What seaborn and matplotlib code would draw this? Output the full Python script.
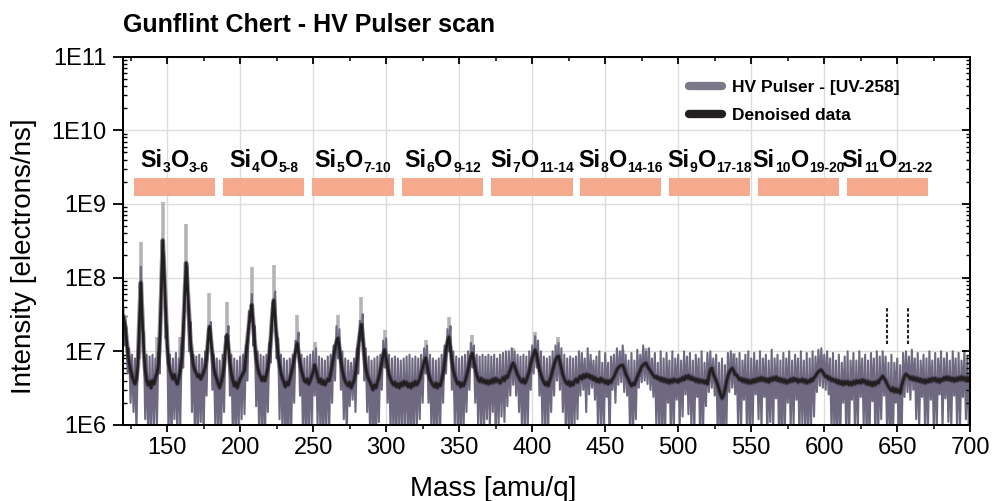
import numpy as np
import pandas as pd
import matplotlib
matplotlib.use("Agg")
import matplotlib.pyplot as plt
import seaborn as sns
from matplotlib.lines import Line2D
from matplotlib.ticker import LogLocator, NullFormatter, MultipleLocator

# ---------------- data ----------------
mass_start, mass_stop = 120, 700          # 1 amu grid

# denoised trace, units of 1e6 electrons/ns, one value per amu (120..700)
denoised_M = [
    30, 24, 16, 10, 7, 5.5, 4.6, 4.0, 3.6, 4.2,
    6.5, 25, 85, 30, 10, 5.5, 4.0, 3.5, 3.9, 3.2,
    4.0, 3.6, 4.4, 5.0, 6.5, 15, 60, 320, 110, 35,
    13, 7, 5.5, 4.8, 4.2, 4.8, 4.0, 3.6, 4.3, 5.5,
    8, 18, 50, 158, 70, 30, 14, 9, 6.5, 5.5,
    5.0, 4.5, 4.8, 4.2, 4.6, 5.2, 6.0, 8.0, 13, 21.6,
    14, 9, 6, 4.8, 4.2, 3.6, 3.2, 3.8, 4.6, 6.5,
    11, 16.6, 11, 7, 5, 4.0, 3.4, 3.8, 3.2, 3.7,
    4.2, 4.6, 5.0, 5.5, 9, 14, 22, 32, 42.5, 24,
    13, 8, 6, 5, 4.5, 4.0, 4.5, 4.0, 4.8, 6.0,
    9, 15, 30, 49, 26, 15, 9, 6.5, 5, 4.3,
    3.8, 3.3, 3.8, 3.5, 4.2, 5.0, 6.2, 8.0, 10, 12.8,
    9.5, 7, 5.5, 4.6, 4.0, 3.8, 4.2, 3.6, 4.0, 4.6,
    5.2, 6.5, 5.5, 4.5, 3.8, 4.2, 3.6, 4.0, 3.5, 3.8,
    4.2, 4.0, 5.0, 6.5, 8.5, 11, 13.5, 15, 11, 7.5,
    5.5, 4.5, 3.9, 3.6, 3.4, 3.8, 3.2, 3.6, 4.0, 5.0,
    7.5, 12, 17, 23, 15, 9, 6, 4.8, 4.2, 3.8,
    3.4, 3.0, 3.5, 3.2, 3.8, 4.4, 5.5, 7.0, 9.0, 10.4,
    8.0, 6.0, 4.8, 4.2, 3.8, 3.5, 3.8, 3.3, 3.6, 3.2,
    3.7, 3.4, 3.9, 3.5, 3.8, 3.3, 3.6, 3.2, 3.7, 3.4,
    3.9, 3.5, 3.8, 4.2, 5.0, 6.0, 7.2, 8.1, 6.5, 5.0,
    4.2, 3.8, 3.5, 3.3, 3.7, 3.2, 3.6, 3.4, 4.0, 5.0,
    7.0, 10.5, 13.5, 15.5, 11, 7.5, 5.5, 4.6, 4.0, 3.6,
    3.8, 3.3, 3.7, 3.4, 3.9, 4.6, 5.5, 7.0, 8.5, 9.4,
    7.5, 5.8, 4.8, 4.2, 3.9, 4.3, 3.8, 4.1, 3.7, 4.0,
    3.6, 4.0, 3.7, 4.2, 3.8, 4.3, 3.9, 4.1, 3.7, 4.0,
    4.4, 4.0, 4.6, 4.4, 5.0, 5.6, 6.4, 6.9, 6.2, 5.4,
    4.8, 4.4, 4.0, 3.8, 4.2, 3.7, 4.0, 4.6, 5.4, 6.8,
    8.0, 9.2, 10.4, 9.0, 7.0, 5.6, 4.8, 4.2, 3.8, 3.5,
    3.8, 3.4, 4.0, 4.6, 5.5, 6.6, 7.6, 8.3, 8.6, 7.2,
    5.8, 4.8, 4.2, 3.8, 3.6, 3.9, 3.4, 3.8, 3.5, 3.9,
    4.2, 3.8, 4.3, 4.6, 4.2, 4.8, 4.4, 4.9, 4.5, 4.8,
    4.3, 4.6, 4.1, 4.4, 3.9, 4.2, 3.8, 4.3, 3.9, 4.1,
    3.7, 4.0, 3.6, 4.0, 3.8, 4.2, 4.5, 5.0, 5.6, 6.0,
    6.3, 6.4, 6.5, 5.8, 5.0, 4.5, 4.1, 3.7, 3.4, 3.7,
    3.5, 4.0, 4.5, 5.0, 5.6, 6.2, 6.5, 6.8, 6.9, 6.2,
    5.8, 5.4, 5.0, 4.7, 4.4, 4.6, 4.2, 4.4, 4.0, 4.3,
    3.9, 4.2, 3.8, 4.1, 3.7, 4.1, 3.8, 4.2, 3.9, 4.1,
    3.8, 4.2, 4.0, 4.4, 4.1, 4.6, 4.3, 4.7, 4.2, 4.5,
    4.1, 4.3, 3.9, 4.2, 3.8, 4.1, 3.8, 4.0, 3.7, 4.0,
    3.6, 4.6, 5.6, 5.9, 5.0, 4.4, 4.0, 3.5, 3.0, 2.6,
    2.3, 2.5, 3.0, 3.8, 4.6, 5.2, 5.6, 5.9, 5.4, 4.8,
    4.8, 4.4, 4.1, 4.3, 3.9, 4.2, 3.8, 4.1, 3.7, 4.0,
    3.7, 4.1, 3.8, 4.2, 3.9, 4.3, 4.0, 4.4, 4.0, 4.3,
    3.9, 4.2, 3.8, 4.3, 4.0, 4.4, 4.1, 4.5, 4.0, 4.3,
    3.9, 4.2, 3.8, 4.1, 3.7, 4.0, 3.8, 4.2, 3.9, 4.3,
    4.0, 4.2, 3.8, 4.1, 3.9, 4.2, 3.8, 4.1, 3.7, 4.0,
    3.8, 4.2, 4.0, 4.4, 4.6, 5.0, 5.3, 5.5, 5.6, 5.2,
    4.8, 4.5, 4.6, 4.2, 4.4, 4.0, 4.2, 3.9, 4.1, 3.7,
    4.0, 3.6, 3.9, 3.5, 3.9, 3.6, 3.9, 3.5, 3.8, 3.5,
    3.9, 3.6, 4.0, 3.7, 4.0, 3.7, 4.1, 3.8, 4.0, 3.6,
    3.9, 3.5, 3.8, 3.4, 3.8, 3.5, 3.9, 3.7, 4.1, 4.3,
    4.6, 4.3, 4.0, 3.6, 3.3, 3.1, 2.9, 3.2, 2.8, 3.1,
    2.8, 3.0, 2.7, 3.4, 4.0, 4.6, 4.9, 4.7, 4.5, 4.2,
    4.5, 4.1, 4.4, 4.0, 4.3, 3.9, 4.2, 3.8, 4.1, 3.7,
    4.1, 3.8, 4.2, 3.9, 4.3, 4.0, 4.3, 3.9, 4.2, 3.8,
    4.2, 4.0, 4.4, 4.1, 4.5, 4.1, 4.4, 4.0, 4.3, 3.9,
    4.3, 4.0, 4.4, 4.1, 4.5, 4.1, 4.4, 4.0, 4.4, 4.2,
    4.5,
]

# raw HV pulser trace, units of 1e6 electrons/ns, one value per amu (120..700)
hv_raw_M = [
    40, 12, 22, 5, 11, 2.0, 9, 1.5, 8, 0.8,
    10, 8, 140, 20, 18, 1.2, 9, 0.7, 8.5, 0.6,
    9, 1.0, 8, 0.9, 10, 5, 100, 250, 200, 15,
    22, 0.8, 9, 0.6, 8, 1.2, 9.5, 0.7, 8, 1.0,
    12, 6, 80, 130, 140, 10, 25, 1.5, 9, 0.8,
    8.5, 0.6, 9, 1.1, 8, 0.7, 10, 2.5, 20, 18,
    25, 3, 9, 0.9, 8, 0.6, 7.5, 0.8, 9, 1.5,
    16, 12, 22, 2.5, 9, 0.7, 8, 0.6, 7.5, 0.9,
    8.5, 1.2, 9, 1.4, 12, 4, 35, 25, 60, 12,
    22, 1.8, 10, 0.8, 9, 0.7, 8.5, 0.6, 9, 1.5,
    13, 7, 45, 40, 65, 8, 15, 1.2, 9, 0.8,
    8, 0.6, 7.5, 0.5, 8, 0.9, 9, 2.0, 14, 11,
    18, 2.5, 9, 0.8, 8, 0.6, 8.5, 0.7, 9, 1.0,
    10, 2.5, 11, 1.0, 8.5, 0.7, 8, 0.6, 7.5, 0.8,
    8.5, 0.9, 9, 2.0, 12, 4, 22, 8, 20, 3,
    10, 1.2, 8, 0.7, 7.5, 1.8, 7, 2.2, 8, 1.5,
    11, 5, 26, 14, 32, 4, 11, 1.5, 8.5, 0.7,
    7.5, 0.6, 8, 0.5, 8.5, 1.1, 9, 3, 14, 6,
    15, 2, 9, 0.8, 8, 0.7, 8.5, 0.6, 8, 0.9,
    7.5, 0.6, 8, 1.0, 8.5, 0.7, 9, 0.5, 8, 0.8,
    8.5, 0.9, 8, 1.2, 9, 2, 11, 5, 12, 2,
    9, 0.8, 8, 0.6, 7.5, 0.7, 8, 0.9, 9, 2,
    12, 5, 20, 10, 22, 3, 10, 1.0, 8.5, 0.7,
    8, 0.6, 8.5, 0.8, 9, 1.5, 10, 3, 13, 6,
    12, 2, 9, 1.0, 8.5, 0.8, 9, 0.7, 8.5, 1.2,
    9, 0.9, 8.5, 1.5, 9, 0.7, 8, 1.0, 9, 1.3,
    9.5, 1.1, 10, 1.8, 10, 2.5, 11, 3.5, 10, 2.5,
    9, 1.5, 8.5, 0.8, 9, 0.7, 8.5, 1.0, 10, 3,
    12, 5, 16, 6, 14, 2.5, 10, 1.0, 8.5, 0.7,
    8, 0.9, 8.5, 1.5, 10, 2.5, 12, 4, 13, 3,
    11, 1.5, 9, 0.8, 8, 0.7, 8.5, 0.6, 8, 1.0,
    8.5, 1.2, 10, 2.5, 9.5, 3.0, 8, 1.5, 11, 2.6,
    9, 3.2, 7.5, 2.2, 8.5, 1.0, 10, 0.8, 7, 0.9,
    9.5, 2.4, 7, 0.6, 8.5, 3.0, 9, 2.0, 11, 3.5,
    10, 3.8, 12, 2.8, 9, 2.5, 7.5, 0.8, 9.5, 0.6,
    7.5, 1.2, 10.5, 3.2, 9, 3.8, 12, 4.0, 10, 3.6,
    11, 3.0, 8, 2.4, 9.5, 1.0, 7, 0.8, 10, 0.6,
    8, 0.7, 9.5, 2.0, 7.5, 0.6, 10, 0.9, 8, 2.2,
    9, 1.0, 7.5, 1.3, 10, 2.6, 8.5, 1.4, 9.5, 0.9,
    7.5, 0.8, 9, 2.4, 8, 0.6, 10, 0.8, 7, 1.8,
    9.5, 2.8, 10, 3.2, 8, 2.5, 9, 0.8, 7, 0.6,
    8, 0.5, 6.5, 0.9, 9.5, 2.8, 10, 3.2, 9, 2.6,
    8, 1.0, 9.5, 0.8, 7.5, 2.2, 9, 0.9, 10, 0.6,
    8, 1.0, 9.5, 2.6, 7.5, 1.2, 10, 0.9, 8, 2.4,
    9, 0.7, 7.5, 1.1, 10.5, 0.8, 8, 2.3, 9, 0.7,
    7.5, 0.6, 9.5, 0.8, 8, 2.0, 10, 0.9, 7.5, 1.0,
    9, 2.2, 8, 0.7, 10, 1.0, 7.5, 0.8, 9.5, 0.6,
    8, 1.0, 10, 1.3, 8.5, 2.8, 10.5, 3.4, 11, 3.2,
    9, 3.0, 10, 2.6, 8, 0.8, 9.5, 0.7, 7.5, 0.6,
    9, 0.7, 7, 2.0, 8.5, 0.8, 10, 0.6, 7.5, 2.2,
    9.5, 0.8, 7.5, 0.9, 10, 2.4, 8, 1.0, 9, 0.7,
    7.5, 0.6, 9.5, 2.1, 8, 0.6, 10, 0.8, 8.5, 1.2,
    10, 2.5, 8.5, 0.8, 7, 0.6, 9, 0.5, 7, 2.0,
    8, 0.5, 6.5, 0.7, 9.5, 2.4, 10, 2.8, 8.5, 2.2,
    10.5, 3.0, 8, 1.2, 9.5, 0.9, 7.5, 2.4, 9, 0.9,
    8, 0.8, 10, 2.2, 7.5, 0.9, 9.5, 0.8, 8, 2.6,
    10, 0.9, 8, 2.3, 9.5, 1.1, 7.5, 0.9, 10, 2.5,
    8, 0.8, 9.5, 1.0, 7.5, 2.4, 10, 1.2, 8.5, 0.8,
    9,
]

# raw peak tips (light grey spikes), units of 1e6
spike_mass = [121, 132, 143, 147, 159, 163, 179, 191, 208, 223,
              239, 251, 267, 283, 299, 327, 343, 359, 387, 402,
              418, 462, 478, 538, 598]
spike_base_M = [20, 60, 8, 250, 8, 120, 18, 14, 35, 40,
                11, 6, 13, 20, 9, 7, 13, 8, 6, 9,
                7.5, 6, 6, 5.5, 5]
spike_top_M = [30, 307, 15.8, 1070, 15.8, 530, 61, 47, 138, 148,
               31, 13.5, 31, 55, 19.5, 14.2, 29.5, 16.6, 11, 18.5,
               15.5, 10.5, 11, 9.6, 9]

# cluster bands
bar_start = [127.3, 188.3, 249.4, 310.7, 372.0, 432.8, 493.6, 554.5, 615.4]
bar_end = [183.1, 243.9, 305.2, 366.3, 427.8, 488.4, 549.3, 610.4, 671.0]
bar_low, bar_high = 1.28e9, 2.22e9
label_level = 3.2e9
cluster_si = ["3", "4", "5", "6", "7", "8", "9", "10", "11"]
cluster_o = ["3-6", "5-8", "7-10", "9-12", "11-14", "14-16", "17-18", "19-20", "21-22"]

# dashed markers
marker_mass = [642.7, 657.5]
marker_low, marker_high = 1.26e7, 3.96e7

xticks = [150, 200, 250, 300, 350, 400, 450, 500, 550, 600, 650, 700]
yticks = [1e6, 1e7, 1e8, 1e9, 1e10, 1e11]
ytick_labels = ["1E6", "1E7", "1E8", "1E9", "1E10", "1E11"]
legend_labels = ["HV Pulser - [UV-258]", "Denoised data"]

# ---------------- figure ----------------
mass = np.arange(mass_start, mass_stop + 1)
df = pd.DataFrame({"mass": mass,
                   "hv": np.array(hv_raw_M) * 1e6,
                   "dn": np.array(denoised_M) * 1e6})

sns.set_style("ticks")
plt.rcParams["font.family"] = ["Liberation Sans", "DejaVu Sans"]
plt.rcParams.update({"text.color": "black", "axes.labelcolor": "black",
                     "xtick.color": "black", "ytick.color": "black",
                     "axes.edgecolor": "black"})

C_RAW = "#6e6980"
C_LEG_RAW = "#7d7889"
C_DN = "#231f20"

fig = plt.figure(figsize=(9.92, 5.01), dpi=100)
ax = fig.add_axes([0.1243, 0.1517, 0.8538, 0.7355])
ax.set_yscale("log")
ax.set_xlim(mass_start, mass_stop)
ax.set_ylim(1e6, 1e11)
ax.grid(True, which="major", color="#dcdcdc", lw=1.0)
ax.set_axisbelow(True)

ax.vlines(spike_mass, np.array(spike_base_M) * 1e6, np.array(spike_top_M) * 1e6,
          color="#b5b4b8", lw=2.6, zorder=1.5)
sns.lineplot(data=df, x="mass", y="hv", ax=ax, color=C_RAW, lw=1.5,
             errorbar=None, zorder=2)
sns.lineplot(data=df, x="mass", y="dn", ax=ax, color="#3a3446", lw=3.4,
             alpha=0.55, errorbar=None, zorder=3)
sns.lineplot(data=df, x="mass", y="dn", ax=ax, color=C_DN, lw=1.9,
             errorbar=None, zorder=4)

ax.vlines(marker_mass, marker_low, marker_high, colors=C_DN,
          linestyles=(0, (1.6, 1.0)), lw=1.5, zorder=4)

ax.bar(bar_start, height=bar_high - bar_low,
       width=np.subtract(bar_end, bar_start), bottom=bar_low,
       align="edge", color="#f5a98d", lw=0, zorder=5)

# cluster labels built from pieces (Si_n O_range)
main_style = dict(fontsize=16.8, fontweight="bold", color="black")
sub_style = dict(fontsize=10, fontweight="bold", color="black")
groups = []
for s, e, n, o in zip(bar_start, bar_end, cluster_si, cluster_o):
    xc = (s + e) / 2
    first = ax.annotate("Si", xy=(xc, label_level), xycoords="data",
                        xytext=(0, 0), textcoords="offset pixels",
                        ha="left", va="baseline", zorder=6, **main_style)
    prev = first
    for txt, st, dy in [(n, sub_style, -5.6), ("O", main_style, 0),
                        (o, sub_style, -5.6)]:
        prev = ax.annotate(txt, xy=(1, label_level), xycoords=(prev, "data"),
                           xytext=(0.3, dy), textcoords="offset pixels",
                           ha="left", va="baseline", zorder=6, **st)
    groups.append((first, prev))

# legend
handles = [Line2D([], [], color=C_LEG_RAW, lw=6, solid_capstyle="round"),
           Line2D([], [], color=C_DN, lw=6, solid_capstyle="round")]
leg = ax.legend(handles, legend_labels, loc="upper left",
                bbox_to_anchor=(0.668, 0.937), frameon=False,
                prop={"weight": "bold", "size": 12.5}, handlelength=1.9,
                handletextpad=0.6, labelspacing=0.75, borderpad=0,
                borderaxespad=0)
leg.set_zorder(7)

# ticks
ax.set_xticks(xticks)
ax.xaxis.set_minor_locator(MultipleLocator(25))
ax.set_yticks(yticks, ytick_labels)
ax.yaxis.set_minor_locator(LogLocator(base=10, subs=np.arange(2, 10), numticks=100))
ax.yaxis.set_minor_formatter(NullFormatter())
ax.tick_params(axis="x", which="major", direction="out", length=5, width=1.3,
               labelsize=17, pad=4, top=False)
ax.tick_params(axis="x", which="minor", direction="out", length=3, width=1.1, top=False)
ax.tick_params(axis="y", which="major", direction="out", length=7, width=1.3,
               labelsize=17, pad=5, right=False)
ax.tick_params(axis="y", which="minor", direction="in", length=3, width=1.0, right=False)
ax.set_xlabel("")
ax.set_ylabel("")

axt = ax.twiny()
axt.set_xlim(mass_start, mass_stop)
axt.set_xticks(xticks)
axt.xaxis.set_minor_locator(MultipleLocator(25))
axt.tick_params(axis="x", which="major", direction="in", length=5, width=1.3, labeltop=False)
axt.tick_params(axis="x", which="minor", direction="in", length=3, width=1.1)

axr = ax.twinx()
axr.set_yscale("log")
axr.set_ylim(1e6, 1e11)
axr.set_yticks(yticks)
axr.yaxis.set_minor_locator(LogLocator(base=10, subs=np.arange(2, 10), numticks=100))
axr.yaxis.set_major_formatter(NullFormatter())
axr.yaxis.set_minor_formatter(NullFormatter())
axr.tick_params(axis="y", which="major", direction="in", length=6, width=1.3, labelright=False)
axr.tick_params(axis="y", which="minor", direction="in", length=3, width=1.0)

for a in (ax, axt, axr):
    for sp in a.spines.values():
        sp.set_linewidth(1.4)
        sp.set_color("black")
        sp.set_visible(True)

fig.text(0.124, 1 - 31.7 / 501, "Gunflint Chert - HV Pulser scan",
         fontsize=18, fontweight="bold", ha="left", va="baseline")
fig.text(24 / 992, 1 - 256 / 501, "Intensity [electrons/ns]", rotation=90,
         ha="center", va="center", fontsize=20)
fig.text(493 / 992, 1 - 489 / 501, "Mass [amu/q]", ha="center", va="center",
         fontsize=20)

# center composite labels over their bands
fig.canvas.draw()
renderer = fig.canvas.get_renderer()
for first, last in groups:
    w = last.get_window_extent(renderer).x1 - first.get_window_extent(renderer).x0
    first.xyann = (-w / 2, 0)

fig.savefig("out.png", dpi=100)
